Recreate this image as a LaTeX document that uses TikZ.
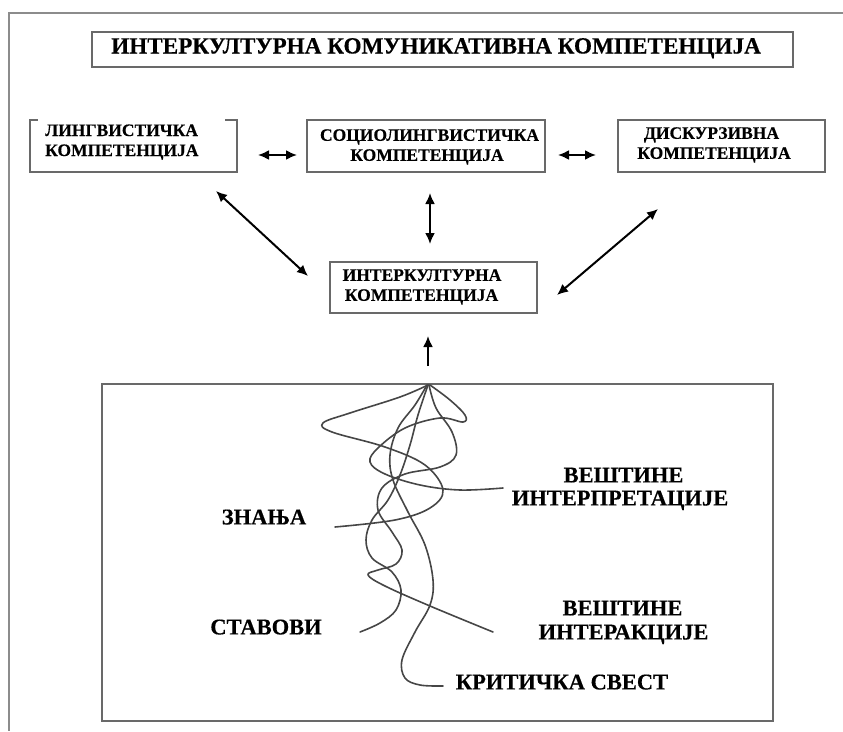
\documentclass[tikz,border=0pt]{standalone}
\usepackage{fontspec}
\setmainfont{Liberation Serif}[BoldFeatures={FakeBold=0.4}]
\usetikzlibrary{arrows.meta}
\definecolor{edgec}{RGB}{105,105,105}
\definecolor{framec}{RGB}{140,140,140}
\definecolor{wirec}{RGB}{70,70,70}
\begin{document}
\begin{tikzpicture}[x=1pt,y=-1pt,
  box/.style={draw=edgec, line width=2pt, inner sep=0pt},
  lbl/.style={font=\fontsize{17.5}{20}\selectfont\bfseries, inner sep=0pt, anchor=base},
  big/.style={font=\fontsize{22.5}{23}\selectfont\bfseries, inner sep=0pt, anchor=base},
  dbl/.style={{Latex[length=11pt,width=10pt]}-{Latex[length=11pt,width=10pt]}, line width=2pt},
  sgl/.style={-{Latex[length=11pt,width=10pt]}, line width=2pt},
  wirestyle/.style={draw=wirec, line width=1.6pt, line cap=round, line join=round}]
\useasboundingbox (0,0) rectangle (843,731);
% outer frame (top and left only)
\draw[framec, line width=2.5pt] (843,13) -- (9,13) -- (9,731);
% boxes
\node[box, minimum width=701pt, minimum height=35pt] (title) at (442.5,49.5) {};
\node[box, minimum width=207pt, minimum height=52pt] (ling) at (133.5,146) {};
\node[box, minimum width=238pt, minimum height=52pt] (soc) at (426,146) {};
\node[box, minimum width=207pt, minimum height=52pt] (disk) at (721.5,146) {};
\node[box, minimum width=207pt, minimum height=51pt] (inter) at (433.5,287.5) {};
\node[box, minimum width=671pt, minimum height=337pt] (field) at (437.5,552.5) {};
% texts
\node[font=\fontsize{23.2}{24}\selectfont\bfseries, inner sep=0pt, anchor=base] (titletext) at (436,53.5) {ИНТЕРКУЛТУРНА КОМУНИКАТИВНА КОМПЕТЕНЦИЈА};
\node[lbl, anchor=base west, fill=white, inner xsep=7pt, inner ysep=6pt, text width=173pt] (lingA) at (38,136) {ЛИНГВИСТИЧКА};
\node[lbl, anchor=base west] (lingB) at (45,156) {КОМПЕТЕНЦИЈА};
\node[lbl] (socA) at (429.5,140.8) {СОЦИОЛИНГВИСТИЧКА};
\node[lbl] (socB) at (427,160.8) {КОМПЕТЕНЦИЈА};
\node[lbl] (diskA) at (711.5,138.8) {ДИСКУРЗИВНА};
\node[lbl] (diskB) at (714,158.8) {КОМПЕТЕНЦИЈА};
\node[lbl] (interA) at (422,280.8) {ИНТЕРКУЛТУРНА};
\node[lbl] (interB) at (421.5,300.8) {КОМПЕТЕНЦИЈА};
% arrows
\draw[dbl] ([xshift=20pt,yshift=-9pt]ling.east) -- ([xshift=-9pt,yshift=-9pt]soc.west);
\draw[dbl] ([xshift=12pt,yshift=-9pt]soc.east) -- ([xshift=-21pt,yshift=-9pt]disk.west);
\draw[dbl] ([xshift=-22pt,yshift=-18pt]ling.south east) -- ([xshift=-21pt,yshift=-15pt]inter.north west);
\draw[dbl] ([xshift=4pt,yshift=-20pt]soc.south) -- ([xshift=-3.5pt,yshift=17pt]inter.north);
\draw[dbl] ([xshift=41pt,yshift=-36pt]disk.south west) -- ([xshift=19pt,yshift=-7.5pt]inter.east);
\draw[sgl] ([xshift=-9.5pt,yshift=17pt]field.north) -- ([xshift=-5.5pt,yshift=-22pt]inter.south);
% bottom labels
\node[big] (vesA) at (623.5,482.4) {ВЕШТИНЕ};
\node[big] (interp) at (620,505.4) {ИНТЕРПРЕТАЦИЈЕ};
\node[big] (znanja) at (264,524.4) {ЗНАЊА};
\node[big] (stavovi) at (266,634.4) {СТАВОВИ};
\node[big] (vesB) at (622.5,615.4) {ВЕШТИНЕ};
\node[big] (interakc) at (623.5,639.4) {ИНТЕРАКЦИЈЕ};
\node[big] (kritic) at (562,689.4) {КРИТИЧКА СВЕСТ};
% tangled threads
\draw[wirestyle] plot[smooth, tension=0.6] coordinates {(428,385) (400,397) (350,413) (323,423) (332,432) (385,447) (425,465) (443,490) (430,508) (395,520) (335,527)};
\draw[wirestyle] plot[smooth, tension=0.6] coordinates {(430,385) (450,400) (465,415) (463,422) (440,418) (405,428) (378,448) (370,462) (385,474) (420,485) (460,490) (503,488)};
\draw[wirestyle] plot[smooth, tension=0.6] coordinates {(427,385) (415,405) (398,428) (390,455) (393,480) (408,512) (425,545) (433,580) (430,605) (415,632) (402,660) (405,678) (420,685) (443,686)};
\draw[wirestyle] plot[smooth, tension=0.6] coordinates {(429,385) (436,408) (452,432) (456,455) (440,467) (405,474) (382,488) (378,510) (392,532) (402,550) (396,564) (378,570) (368,575) (385,586) (430,606) (493,632)};
\draw[wirestyle] plot[smooth, tension=0.6] coordinates {(428,385) (418,415) (410,445) (400,475) (388,500) (372,520) (366,540) (372,558) (392,572) (401,590) (396,610) (380,623) (360,632)};
\end{tikzpicture}
\end{document}
